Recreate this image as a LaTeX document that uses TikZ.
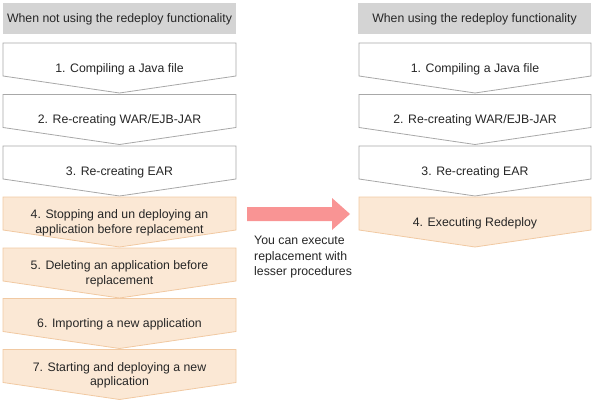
\documentclass[tikz,border=0pt]{standalone}
\usepackage{fontspec}
\setmainfont{Liberation Sans}
\begin{document}
\begin{tikzpicture}[x=1pt,y=-1pt,
  txt/.style={font=\fontsize{12.3}{14.5}\selectfont, align=center, inner sep=0pt, text=black!85},
  hdr/.style={fill=hdrgray, draw=none},
  plain/.style={fill=white, draw=boxgray, line width=0.8pt},
  warm/.style={fill=warmfill, draw=warmline, line width=0.8pt},
  bigarrow/.style={fill=arrowred, draw=none}]
\definecolor{hdrgray}{HTML}{D4D4D4}
\definecolor{boxgray}{HTML}{A8A8A8}
\definecolor{warmfill}{HTML}{FBE8D5}
\definecolor{warmline}{HTML}{F1C9A2}
\definecolor{arrowred}{HTML}{F99494}
\useasboundingbox (0,0) rectangle (595,404);
\newcommand\chevbox[6]{%
  \draw[#5] (#2,#4) -- (#3,#4) -- (#3,#4+33) -- ({(#2+#3)/2},#4+50) -- (#2,#4+33) -- cycle;
  \node[txt] (#1) at ({(#2+#3)/2},#4+26) {#6};}
% left column
\fill[hdr] (3,3) rectangle (236,34);
\node[txt] (lh) at (119.5,19) {When not using the redeploy functionality};
\chevbox{l1}{3}{236}{43}{plain}{1. Compiling a Java file}
\chevbox{l2}{3}{236}{94.5}{plain}{2. Re-creating WAR/EJB-JAR}
\chevbox{l3}{3}{236}{146}{plain}{3. Re-creating EAR}
\chevbox{l7}{3}{236}{349.5}{warm}{7. Starting and deploying a new\\application}
\chevbox{l6}{3}{236}{298.5}{warm}{6. Importing a new application}
\chevbox{l5}{3}{236}{248}{warm}{5. Deleting an application before\\replacement}
\chevbox{l4}{3}{236}{197}{warm}{4. Stopping and un deploying an\\application before replacement}
% right column
\fill[hdr] (358,3) rectangle (591,34);
\node[txt] (rh) at (474.5,19) {When using the redeploy functionality};
\chevbox{r1}{359}{591}{43}{plain}{1. Compiling a Java file}
\chevbox{r2}{359}{591}{94.5}{plain}{2. Re-creating WAR/EJB-JAR}
\chevbox{r3}{359}{591}{146}{plain}{3. Re-creating EAR}
\chevbox{r4}{359}{591}{197}{warm}{4. Executing Redeploy}
% big arrow
\coordinate (as) at (247,214);
\coordinate (at) at (350,214);
\fill[bigarrow] (as) ++(0,-7) -- (332,207) -- (332,198) -- (at) -- (332,230) -- (332,221) -- (247,221) -- cycle;
\node[txt, font=\fontsize{12.3}{15.5}\selectfont, align=left, anchor=north west] (note) at (254,236) {You can execute\\replacement with\\lesser procedures};
\end{tikzpicture}
\end{document}
